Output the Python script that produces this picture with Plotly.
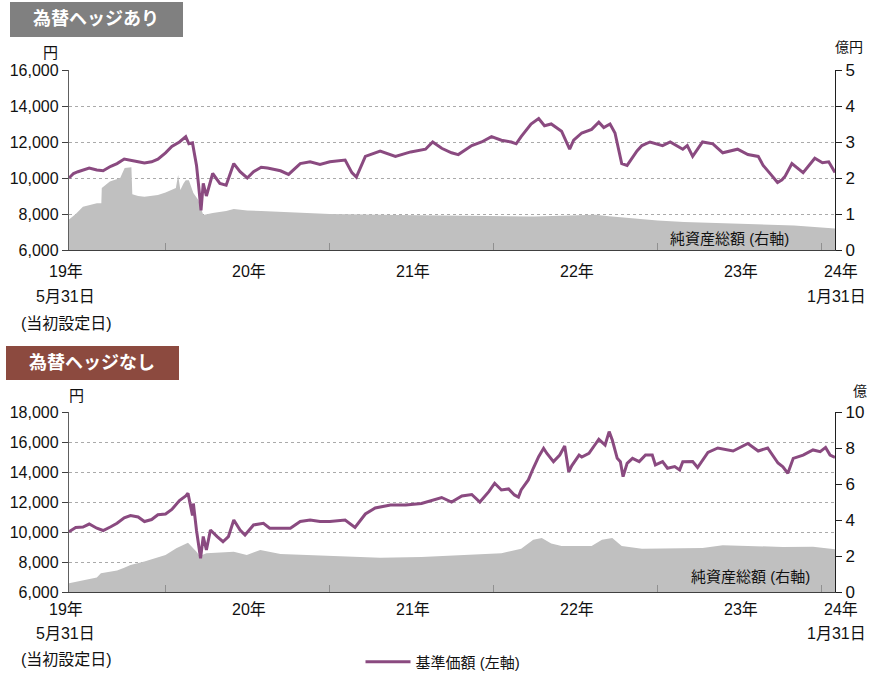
import plotly.graph_objects as go

W, H = 869, 674

# ---------------- data ----------------
hedged_nav_dates = [
    "2019-05-31", "2019-06-10", "2019-06-20", "2019-07-01", "2019-07-15", "2019-08-01", "2019-08-15",
    "2019-09-01", "2019-09-15", "2019-10-01", "2019-10-15", "2019-11-01", "2019-11-15", "2019-12-01",
    "2019-12-15", "2020-01-01", "2020-01-15", "2020-02-01", "2020-02-15", "2020-02-22", "2020-03-01",
    "2020-03-10", "2020-03-15", "2020-03-20", "2020-03-25", "2020-04-01", "2020-04-15", "2020-05-01",
    "2020-05-15", "2020-06-01", "2020-06-15", "2020-07-01", "2020-07-15", "2020-08-01", "2020-08-15",
    "2020-09-13", "2020-10-01", "2020-10-27", "2020-11-18", "2020-12-10", "2021-01-01", "2021-02-04",
    "2021-02-19", "2021-03-01", "2021-03-21", "2021-04-23", "2021-05-27", "2021-06-30", "2021-08-02",
    "2021-08-18", "2021-09-07", "2021-09-29", "2021-10-14", "2021-11-13", "2021-12-05", "2021-12-27",
    "2022-01-18", "2022-02-09", "2022-02-20", "2022-03-03", "2022-03-25", "2022-04-11", "2022-04-24",
    "2022-05-09", "2022-06-01", "2022-06-19", "2022-06-28", "2022-07-16", "2022-08-07", "2022-08-23",
    "2022-09-03", "2022-09-17", "2022-09-28", "2022-10-13", "2022-10-25", "2022-11-16", "2022-11-27",
    "2022-12-15", "2023-01-12", "2023-01-29", "2023-02-26", "2023-03-08", "2023-03-20", "2023-04-11",
    "2023-05-04", "2023-05-26", "2023-06-28", "2023-07-21", "2023-08-13", "2023-08-24", "2023-09-10",
    "2023-09-25", "2023-10-05", "2023-10-12", "2023-10-27", "2023-11-21", "2023-12-17", "2024-01-03",
    "2024-01-17", "2024-01-31",
]
hedged_nav = [
    10000, 10250, 10350, 10450, 10550, 10450, 10400,
    10650, 10800, 11050, 11000, 10900, 10830, 10900,
    11050, 11400, 11750, 12000, 12300, 11900, 11950,
    10700, 9500, 8200, 9700, 9000, 10250, 9700,
    9600, 10800, 10350, 10000, 10350, 10600, 10550,
    10400, 10200, 10800, 10900, 10750, 10900, 11000,
    10300, 10050, 11200, 11500, 11200, 11450, 11600,
    12000, 11650, 11400, 11300, 11800, 12000, 12300,
    12100, 12000, 11900, 12300, 13000, 13300, 12900,
    13000, 12600, 11600, 12100, 12500, 12700, 13100,
    12800, 13000, 12500, 10800, 10700, 11500, 11800,
    12000, 11800, 12000, 11600, 11800, 11200, 12000,
    11900, 11400, 11600, 11300, 11200, 10700, 10200,
    9750, 9900, 10100, 10800, 10300, 11100, 10850,
    10900, 10300,
]

hedged_aum_dates = [
    "2019-05-31", "2019-06-15", "2019-07-01", "2019-07-15", "2019-08-01", "2019-08-11", "2019-08-12",
    "2019-08-30", "2019-09-22", "2019-10-02", "2019-10-17", "2019-10-19", "2019-11-01", "2019-11-15",
    "2019-12-01", "2019-12-15", "2020-01-01", "2020-01-15", "2020-01-24", "2020-01-29", "2020-02-03",
    "2020-02-10", "2020-02-15", "2020-02-22", "2020-03-03", "2020-03-14", "2020-03-25", "2020-04-15",
    "2020-05-15", "2020-06-01", "2020-07-01", "2020-08-01", "2020-10-01", "2021-01-01", "2021-06-01",
    "2021-12-01", "2022-04-01", "2022-06-01", "2022-08-15", "2022-09-15", "2022-11-01", "2023-01-01",
    "2023-03-01", "2023-05-01", "2023-08-01", "2023-11-01", "2024-01-31",
]
hedged_aum = [
    0.85, 1.0, 1.2, 1.25, 1.3, 1.3, 1.72,
    1.9, 2.0, 2.28, 2.3, 1.55, 1.5, 1.48,
    1.5, 1.53, 1.6, 1.68, 1.72, 2.08, 1.67,
    1.85, 1.94, 1.94, 1.58, 1.39, 0.97, 1.03,
    1.08, 1.14, 1.1, 1.08, 1.05, 1.0, 0.97,
    0.95, 0.93, 0.95, 0.98, 0.94, 0.89, 0.82,
    0.78, 0.75, 0.72, 0.68, 0.6,
]

unhedged_nav_dates = [
    "2019-05-31", "2019-06-15", "2019-07-01", "2019-07-15", "2019-08-01", "2019-08-15", "2019-09-01",
    "2019-09-15", "2019-10-01", "2019-10-15", "2019-11-01", "2019-11-15", "2019-12-01", "2019-12-15",
    "2020-01-01", "2020-01-15", "2020-02-01", "2020-02-15", "2020-02-20", "2020-02-25", "2020-03-01",
    "2020-03-03", "2020-03-10", "2020-03-19", "2020-03-25", "2020-04-01", "2020-04-10", "2020-04-25",
    "2020-05-08", "2020-05-20", "2020-06-01", "2020-06-15", "2020-06-26", "2020-07-15", "2020-08-06",
    "2020-08-20", "2020-09-13", "2020-10-05", "2020-10-27", "2020-11-18", "2020-12-10", "2021-01-01",
    "2021-02-04", "2021-02-26", "2021-03-21", "2021-04-12", "2021-05-16", "2021-06-19", "2021-07-24",
    "2021-08-15", "2021-09-07", "2021-09-29", "2021-10-22", "2021-11-13", "2021-12-01", "2021-12-21",
    "2022-01-03", "2022-01-18", "2022-02-03", "2022-02-16", "2022-02-25", "2022-03-03", "2022-03-19",
    "2022-03-30", "2022-04-11", "2022-04-22", "2022-04-29", "2022-05-14", "2022-05-28", "2022-06-08",
    "2022-06-17", "2022-06-24", "2022-07-10", "2022-07-16", "2022-08-01", "2022-08-14", "2022-08-23",
    "2022-09-06", "2022-09-15", "2022-09-22", "2022-10-03", "2022-10-10", "2022-10-16", "2022-10-25",
    "2022-11-06", "2022-11-21", "2022-12-05", "2022-12-20", "2022-12-27", "2023-01-12", "2023-01-23",
    "2023-02-08", "2023-02-19", "2023-02-26", "2023-03-20", "2023-03-31", "2023-04-23", "2023-05-15",
    "2023-06-18", "2023-07-21", "2023-08-13", "2023-09-03", "2023-09-26", "2023-10-07", "2023-10-18",
    "2023-10-30", "2023-11-21", "2023-12-13", "2023-12-29", "2024-01-10", "2024-01-20", "2024-01-31",
]
unhedged_nav = [
    10020, 10300, 10330, 10530, 10250, 10100, 10350,
    10580, 10950, 11100, 11000, 10700, 10830, 11150,
    11200, 11500, 12100, 12400, 12580, 11800, 11100,
    11900, 10100, 8250, 9700, 8800, 10130, 9690,
    9350, 9690, 10800, 10130, 9800, 10470, 10580,
    10250, 10250, 10250, 10700, 10800, 10700, 10700,
    10800, 10300, 11200, 11600, 11800, 11800, 11900,
    12100, 12300, 12000, 12400, 12500, 12000, 12690,
    13250, 12800, 12870, 12470, 12330, 12800, 13470,
    14250, 15020, 15580, 15250, 14690, 15130, 15730,
    14020, 14430, 15130, 15000, 15250, 15800, 16180,
    15800, 16690, 16130, 14910, 14690, 13690, 14580,
    14910, 14690, 15130, 15130, 14470, 14690, 14250,
    14360, 14140, 14690, 14700, 14300, 15300, 15600,
    15400, 15900, 15400, 15600, 14600, 14350, 13910,
    14910, 15130, 15470, 15360, 15640, 15130, 14980,
]

unhedged_aum_dates = [
    "2019-05-31", "2019-07-01", "2019-08-01", "2019-08-10", "2019-09-15", "2019-10-01", "2019-10-15",
    "2019-11-15", "2019-12-15", "2020-01-01", "2020-01-25", "2020-02-20", "2020-03-10", "2020-03-17",
    "2020-04-01", "2020-06-01", "2020-06-30", "2020-07-30", "2020-09-13", "2021-01-01", "2021-04-23",
    "2021-07-24", "2021-11-13", "2022-01-18", "2022-03-03", "2022-03-30", "2022-04-18", "2022-05-09",
    "2022-06-01", "2022-08-07", "2022-08-30", "2022-09-22", "2022-10-13", "2022-11-27", "2023-04-11",
    "2023-05-26", "2023-10-07", "2023-12-13", "2024-01-31",
]
unhedged_aum = [
    0.48, 0.65, 0.8, 1.04, 1.2, 1.35, 1.5,
    1.69, 1.95, 2.06, 2.43, 2.74, 2.24, 2.0,
    2.15, 2.24, 2.06, 2.33, 2.11, 2.0, 1.9,
    1.95, 2.05, 2.15, 2.4, 2.9, 3.0, 2.7,
    2.55, 2.55, 2.9, 3.0, 2.55, 2.4, 2.45,
    2.6, 2.5, 2.52, 2.37,
]

year_tick_dates = ["2020-01-01", "2021-01-01", "2022-01-01", "2023-01-01", "2024-01-01"]
year_label_dates = ["2020-07-05", "2021-07-05", "2022-07-05", "2023-07-05"]
year_labels = ["20年", "21年", "22年", "23年"]
start_labels = ["19年", "5月31日", "(当初設定日)"]
end_labels = ["24年", "1月31日"]

nav_name = "基準価額 (左軸)"
aum_label = "純資産総額 (右軸)"
header_top = "為替ヘッジあり"
header_bottom = "為替ヘッジなし"

# ---------------- styling ----------------
PURPLE = "#8A4A80"
GRAY_FILL = "#C0C0C0"
FONT = "Liberation Sans, Noto Sans CJK JP, sans-serif"


def px(x):
    return x / W


def py(y):
    return 1 - y / H


x_dom = [px(69), px(835)]
top_dom = [py(250), py(70)]
bot_dom = [py(592), py(412)]

fig = go.Figure()

fig.add_trace(go.Scatter(x=hedged_aum_dates, y=hedged_aum, xaxis="x", yaxis="y",
                         mode="lines", line=dict(width=0, color=GRAY_FILL),
                         fill="tozeroy", fillcolor=GRAY_FILL, showlegend=False, hoverinfo="skip"))
fig.add_trace(go.Scatter(x=hedged_nav_dates, y=hedged_nav, xaxis="x", yaxis="y2",
                         mode="lines", line=dict(width=3, color=PURPLE),
                         name=nav_name, showlegend=True))
fig.add_trace(go.Scatter(x=unhedged_aum_dates, y=unhedged_aum, xaxis="x2", yaxis="y3",
                         mode="lines", line=dict(width=0, color=GRAY_FILL),
                         fill="tozeroy", fillcolor=GRAY_FILL, showlegend=False, hoverinfo="skip"))
fig.add_trace(go.Scatter(x=unhedged_nav_dates, y=unhedged_nav, xaxis="x2", yaxis="y4",
                         mode="lines", line=dict(width=3, color=PURPLE),
                         name=nav_name, showlegend=False))

xcommon = dict(domain=x_dom, type="date", range=["2019-05-31", "2024-01-31"],
               showline=True, linecolor="#404040", linewidth=1.2,
               ticks="inside", ticklen=7, tickcolor="#909090", tickwidth=1,
               tickmode="array", tickvals=year_tick_dates, showticklabels=False,
               showgrid=False, zeroline=False, fixedrange=True, automargin=False)
right_common = dict(side="right", showline=True, linecolor="#202020", linewidth=1.2,
                    ticks="outside", ticklen=6, tickcolor="#202020", automargin=False,
                    showgrid=False, zeroline=False, tickfont=dict(size=17, color="#111"))
left_common = dict(side="left", showline=True, linecolor="#606060", linewidth=1.2,
                   ticks="outside", ticklen=6, tickcolor="#404040", automargin=False,
                   showgrid=True, gridcolor="#AAAAAA", griddash="dot", gridwidth=1,
                   zeroline=False, tickformat=",d", tickfont=dict(size=16, color="#111"))
# inner halves of the crossing tick marks
inner_common = dict(showline=False, showgrid=False, zeroline=False, showticklabels=False,
                    ticks="inside", ticklen=6, automargin=False, fixedrange=True)

fig.update_layout(
    width=W, height=H,
    margin=dict(l=0, r=0, t=0, b=0, autoexpand=False),
    paper_bgcolor="white", plot_bgcolor="rgba(0,0,0,0)",
    font=dict(family=FONT, size=15, color="#111"),
    hovermode=False,
    xaxis=dict(anchor="y", **xcommon),
    xaxis2=dict(anchor="y3", **xcommon),
    yaxis=dict(domain=top_dom, anchor="x", range=[0, 5], dtick=1, **right_common),
    yaxis2=dict(overlaying="y", anchor="x", range=[6000, 16000], dtick=2000, **left_common),
    yaxis3=dict(domain=bot_dom, anchor="x2", range=[0, 10], dtick=2, **right_common),
    yaxis4=dict(overlaying="y3", anchor="x2", range=[6000, 18000], dtick=2000, **left_common),
    yaxis5=dict(overlaying="y", anchor="x", side="left", range=[6000, 16000], dtick=2000,
                tickcolor="#404040", **inner_common),
    yaxis6=dict(overlaying="y", anchor="x", side="right", range=[0, 5], dtick=1,
                tickcolor="#202020", **inner_common),
    yaxis7=dict(overlaying="y3", anchor="x2", side="left", range=[6000, 18000], dtick=2000,
                tickcolor="#404040", **inner_common),
    yaxis8=dict(overlaying="y3", anchor="x2", side="right", range=[0, 10], dtick=2,
                tickcolor="#202020", **inner_common),
    legend=dict(orientation="h", x=px(443), xanchor="center", y=py(662), yanchor="middle",
                font=dict(size=15), bgcolor="rgba(0,0,0,0)", itemwidth=45),
    showlegend=True,
)

# header boxes
fig.add_shape(type="rect", xref="paper", yref="paper", x0=px(10), x1=px(183), y0=py(37), y1=py(2),
              fillcolor="#808080", line=dict(width=0), layer="below")
fig.add_shape(type="rect", xref="paper", yref="paper", x0=px(6), x1=px(179), y0=py(380), y1=py(346),
              fillcolor="#8C4A3F", line=dict(width=0), layer="below")

ann = []


def add_text(text, x, y, size=15, color="#111", xref="paper", bold=False, xanchor="center"):
    t = f"<b>{text}</b>" if bold else text
    ann.append(dict(text=t, x=x, y=y, xref=xref, yref="paper", showarrow=False,
                    xanchor=xanchor, yanchor="middle", font=dict(size=size, color=color, family=FONT)))


add_text(header_top, px(96), py(19), size=18, color="white", bold=True)
add_text(header_bottom, px(92), py(363), size=18, color="white", bold=True)

# unit labels
add_text("円", px(50), py(52), size=15)
add_text("億円", px(849), py(47), size=14)
add_text("円", px(76), py(395), size=15)
add_text("億", px(860), py(391), size=14)

# AUM labels inside plots
add_text(aum_label, px(729), py(238), size=15)
add_text(aum_label, px(750), py(576), size=15)

# x-axis labels
for base_y, xref_axis in ((250, "x"), (592, "x2")):
    if xref_axis == "x":
        ys = [base_y + 22, base_y + 47, base_y + 73]
    else:
        ys = [base_y + 17, base_y + 41, base_y + 67]
    for d, lab in zip(year_label_dates, year_labels):
        add_text(lab, d, py(ys[0]), size=16, xref=xref_axis)
    add_text(start_labels[0], px(66), py(ys[0]), size=16)
    add_text(start_labels[1], px(65), py(ys[1]), size=16)
    add_text(start_labels[2], px(66), py(ys[2]), size=16)
    add_text(end_labels[0], px(841), py(ys[0]), size=16)
    add_text(end_labels[1], px(836), py(ys[1]), size=16)

fig.update_layout(annotations=ann)

# remove the default page margin so that the figure fills the window exactly
fig.write_html("out.html",
               config={"displayModeBar": False, "staticPlot": True},
               post_script="document.body.style.margin='0';document.body.style.overflow='hidden';")
